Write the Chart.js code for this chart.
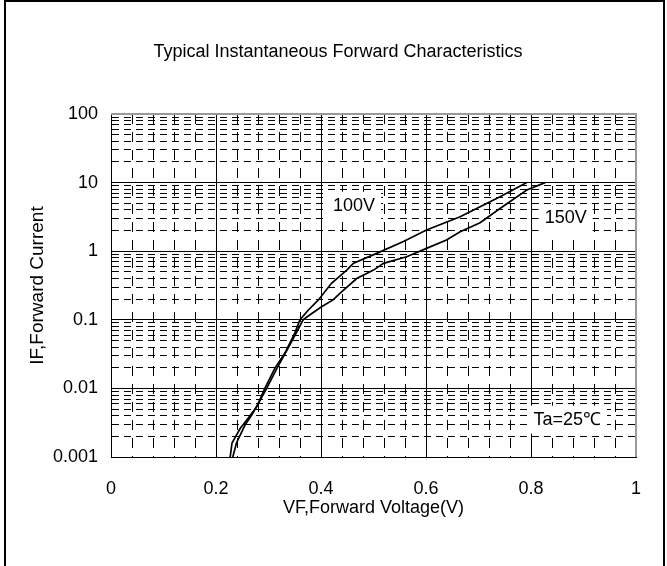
<!DOCTYPE html>
<html><head><meta charset="utf-8">
<script src="https://cdn.jsdelivr.net/npm/chart.js@4/dist/chart.umd.min.js"></script>
<style>
html,body{margin:0;padding:0;background:#fff;}
#wrap{position:relative;width:667px;height:566px;overflow:hidden;}
#frame{position:absolute;left:4px;top:0;width:661px;height:600px;border:2px solid #000;box-sizing:border-box;pointer-events:none;}
canvas{position:absolute;left:0;top:0;}
</style></head><body>
<div id="wrap"><canvas id="c" width="667" height="566"></canvas><div id="frame"></div></div>
<script>
const FONT = '"Liberation Sans",Arial,sans-serif';
const chartTitle = 'Typical Instantaneous Forward Characteristics';
const xAxisTitle = 'VF,Forward Voltage(V)';
const yAxisTitle = 'IF,Forward Current';
const seriesNames = ['100V', '150V'];

const vf100 = [0.227,0.2305,0.246,0.2615,0.2775,0.293,0.312,0.331,0.350,0.360,0.376,0.395,0.420,0.449,0.462,0.506,0.557,0.601,0.665,0.703,0.741,0.792];
const if100 = [0.001,0.0016,0.0026,0.0037,0.0054,0.010,0.0196,0.0325,0.064,0.10,0.139,0.195,0.34,0.53,0.667,0.93,1.38,2.04,3.18,4.46,6.2,10];

const vf150 = [0.232,0.239,0.255,0.268,0.281,0.2965,0.316,0.335,0.354,0.366,0.373,0.401,0.423,0.436,0.468,0.500,0.519,0.563,0.601,0.639,0.665,0.703,0.741,0.792,0.827];
const if150 = [0.001,0.0016,0.0029,0.0041,0.0061,0.010,0.0196,0.036,0.067,0.10,0.11,0.155,0.195,0.243,0.40,0.53,0.665,0.83,1.1,1.46,1.92,2.6,4.2,7.8,10];

const xTickLabels = ['0','0.2','0.4','0.6','0.8','1'];
const yTickLabels = ['0.001','0.01','0.1','1','10','100'];
const yDecadeExps = [-3,-2,-1,0,1,2];
const yMantissas = [1,2,3,4,5,6,7,8,9];

const noteTexts = ['100V','150V','Ta=25\u2103'];
const noteVF = [0.463, 0.866, 0.869];
const noteIF = [4.6, 3.0, 0.0035];

const yTickValues = [];
yDecadeExps.forEach(e => yMantissas.forEach(m => {
  const v = Number((m * Math.pow(10, e)).toPrecision(6));
  if (v <= 100) yTickValues.push(v);
}));
if (!yTickValues.includes(100)) yTickValues.push(100);

const pts = (xs, ys) => xs.map((x, i) => ({x: x, y: ys[i]}));
const isMajorX = v => Math.abs(v * 5 - Math.round(v * 5)) < 1e-6;
const isMajorY = v => Math.abs(Math.log10(v) - Math.round(Math.log10(v))) < 1e-6;

const framePlugin = {
  id: 'framePlugin',
  afterDatasetsDraw(chart) {
    const {ctx, chartArea: a, scales} = chart;
    ctx.save();
    ctx.font = '18px ' + FONT;
    ctx.textAlign = 'center';
    ctx.textBaseline = 'middle';
    noteTexts.forEach((t, i) => {
      const x = scales.x.getPixelForValue(noteVF[i]);
      const y = scales.y.getPixelForValue(noteIF[i]);
      const w = ctx.measureText(t).width;
      ctx.fillStyle = '#fff';
      ctx.fillRect(x - w / 2 - 6, y - 14, w + 12, 28);
      ctx.fillStyle = '#000';
      ctx.fillText(t, x, y);
    });
    ctx.strokeStyle = '#9a9a9a';
    ctx.lineWidth = 2;
    ctx.beginPath();
    ctx.moveTo(a.left, a.top);
    ctx.lineTo(a.right, a.top);
    ctx.lineTo(a.right, a.bottom);
    ctx.stroke();
    ctx.restore();
  }
};

new Chart(document.getElementById('c').getContext('2d'), {
  type: 'scatter',
  data: {
    datasets: [
      {label: seriesNames[0], data: pts(vf100, if100), showLine: true, borderColor: '#000', borderWidth: 1.7, pointRadius: 0, fill: false, tension: 0},
      {label: seriesNames[1], data: pts(vf150, if150), showLine: true, borderColor: '#000', borderWidth: 1.7, pointRadius: 0, fill: false, tension: 0}
    ]
  },
  plugins: [framePlugin],
  options: {
    responsive: false,
    animation: false,
    devicePixelRatio: 1,
    layout: {padding: {left: 40, right: 31, top: 0, bottom: 0}},
    plugins: {
      legend: {display: false},
      tooltip: {enabled: false},
      title: {display: true, text: chartTitle, color: '#000',
        font: {family: FONT, size: 18, weight: 'normal', lineHeight: 1.2},
        padding: {top: 41, bottom: 51.4}}
    },
    scales: {
      x: {
        type: 'linear', min: 0, max: 1, position: 'bottom',
        afterBuildTicks: s => {
          const t = [];
          for (let k = 0; k <= 25; k++) t.push({value: Number((k * 0.04).toFixed(2))});
          s.ticks = t;
        },
        ticks: {autoSkip: false, maxRotation: 0, color: '#000', font: {family: FONT, size: 18}, padding: 21,
          callback: v => isMajorX(v) ? xTickLabels[Math.round(v * 5)] : ''},
        grid: {color: '#000', lineWidth: 1, drawTicks: false},
        border: {display: true, color: '#000', width: 1,
          dash: c => (c.tick && !isMajorX(c.tick.value)) ? [10, 8] : []},
        title: {display: true, text: xAxisTitle, color: '#000', font: {family: FONT, size: 18, lineHeight: 1.2}, padding: {top: 0, bottom: 47}},
        afterFit: s => { s.height = 109; }
      },
      y: {
        type: 'logarithmic', min: 0.001, max: 100,
        afterBuildTicks: s => { s.ticks = yTickValues.map(v => ({value: v})); },
        ticks: {autoSkip: false, color: '#000', font: {family: FONT, size: 18}, padding: 13,
          callback: v => isMajorY(v) ? yTickLabels[yDecadeExps.indexOf(Math.round(Math.log10(v)))] : ''},
        grid: {color: '#000', lineWidth: 1, drawTicks: false},
        border: {display: true, color: '#000', width: 1,
          dash: c => (c.tick && !isMajorY(c.tick.value)) ? [7, 5] : []},
        title: {display: true, text: yAxisTitle, color: '#000', font: {family: FONT, size: 19, lineHeight: 1.2}, padding: {top: -13.4, bottom: 0}},
        afterFit: s => { s.width = 71; }
      }
    }
  }
});
</script>
</body></html>
